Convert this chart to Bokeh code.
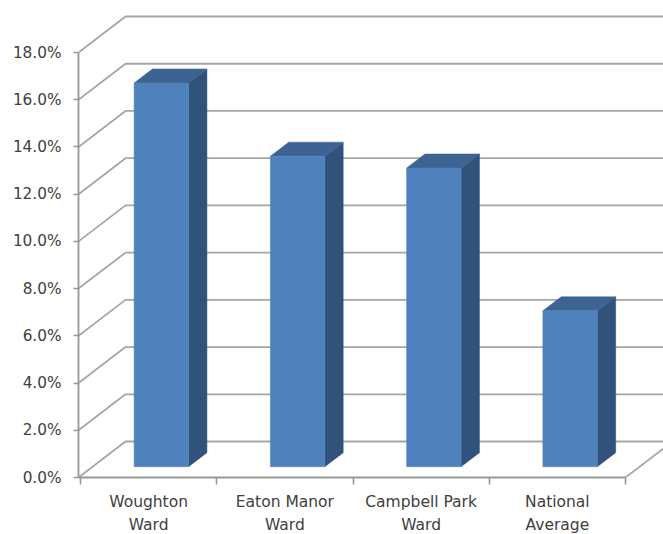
from bokeh.plotting import figure
from bokeh.models import Range1d, FixedTicker
from bokeh.embed import file_html
from bokeh.resources import INLINE

categories = ["Woughton\nWard", "Eaton Manor\nWard", "Campbell Park\nWard", "National\nAverage"]
values = [16.25, 13.15, 12.65, 6.6]
y_ticks = [0, 2, 4, 6, 8, 10, 12, 14, 16, 18]
y_labels = ["0.0%", "2.0%", "4.0%", "6.0%", "8.0%", "10.0%", "12.0%", "14.0%", "16.0%", "18.0%"]

FONT = "DejaVu Sans"
TEXT = "#404040"
GRID = "#A6A6A6"
AXIS = "#979797"

# Oblique projection: one full depth step in axis units
DX = 47 / 136.25
DY = 36 / 23.61
BAR_FRONT, BAR_BACK = 0.30, 0.69
BAR_W = 0.40
BAR_CENTRE = 0.49


def proj(x, v, d):
    return x + d * DX, v + d * DY


p = figure(width=663, height=534, frame_width=585, frame_height=469,
           x_range=Range1d(-2 / 136.25, 583 / 136.25),
           y_range=Range1d(0, 469 / 23.61),
           output_backend="svg", toolbar_location=None,
           min_border_left=78, min_border_right=0, min_border_top=8, min_border_bottom=57)
p.outline_line_color = None
p.grid.visible = False
p.background_fill_color = "white"

# Walls and floor
n = len(categories)
for v in y_ticks:
    xs, ys = zip(proj(-2 / 136.25, v, 0), proj(-2 / 136.25, v, 1), proj(n, v, 1))
    p.line(list(xs), list(ys), line_color=GRID, line_width=1.8)
xs, ys = zip(proj(n, 0, 0), proj(n, 0, 1))
p.line(list(xs), list(ys), line_color=GRID, line_width=1.8)

# Bars
for i, val in enumerate(values):
    l = i + BAR_CENTRE - BAR_W / 2
    r = i + BAR_CENTRE + BAR_W / 2
    front = [proj(l, 0, BAR_FRONT), proj(r, 0, BAR_FRONT), proj(r, val, BAR_FRONT), proj(l, val, BAR_FRONT)]
    side = [proj(r, 0, BAR_FRONT), proj(r, 0, BAR_BACK), proj(r, val, BAR_BACK), proj(r, val, BAR_FRONT)]
    top = [proj(l, val, BAR_FRONT), proj(r, val, BAR_FRONT), proj(r, val, BAR_BACK), proj(l, val, BAR_BACK)]
    for poly, col in ((side, "#31527A"), (top, "#3C6392"), (front, "#4F81BD")):
        p.patch([a for a, _ in poly], [b for _, b in poly], fill_color=col, line_color=col, line_width=0.5)

# Axes
ya = p.yaxis[0]
ya.ticker = FixedTicker(ticks=y_ticks)
ya.major_label_overrides = dict(zip(y_ticks, y_labels))
ya.bounds = (0, 18)
ya.axis_line_color = AXIS
ya.axis_line_width = 1.8
ya.major_tick_line_color = AXIS
ya.major_tick_line_width = 1.6
ya.major_tick_in = 0
ya.major_tick_out = 5
ya.minor_tick_line_color = None
ya.major_label_standoff = 12
ya.major_label_text_font = FONT
ya.major_label_text_font_size = "15.3px"
ya.major_label_text_color = TEXT

xa = p.xaxis[0]
centres = [i + 0.5 for i in range(n)]
xa.ticker = FixedTicker(ticks=centres, minor_ticks=list(range(n + 1)))
xa.major_label_overrides = dict(zip(centres, categories))
xa.bounds = (-2 / 136.25, n)
xa.axis_line_color = AXIS
xa.axis_line_width = 1.8
xa.major_tick_line_color = None
xa.major_tick_in = 0
xa.major_tick_out = 0
xa.minor_tick_line_color = AXIS
xa.minor_tick_line_width = 1.6
xa.minor_tick_in = 0
xa.minor_tick_out = 7
xa.major_label_standoff = 8
xa.major_label_text_font = FONT
xa.major_label_text_font_size = "15.5px"
xa.major_label_text_color = TEXT
xa.major_label_text_line_height = 1.28

open("out.html", "w").write(file_html(p, INLINE))
